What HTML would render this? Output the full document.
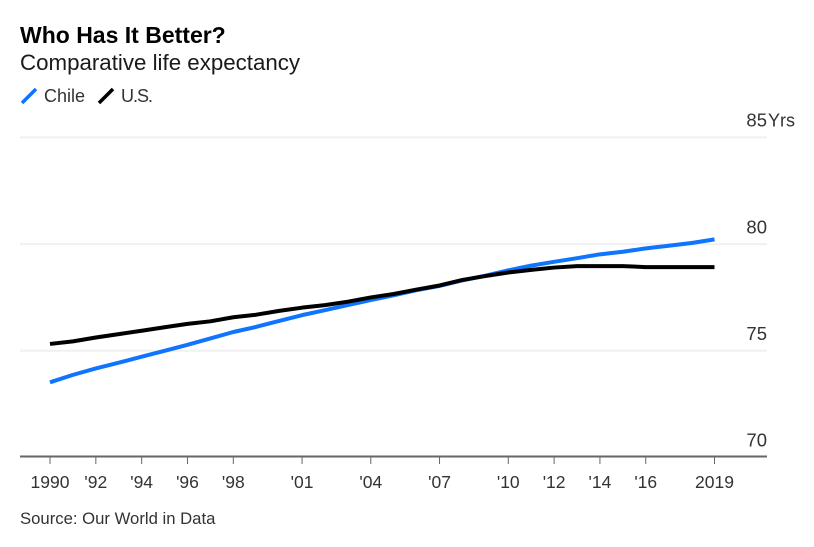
<!DOCTYPE html>
<html>
<head>
<meta charset="utf-8">
<title>Who Has It Better?</title>
<style>
html,body{margin:0;padding:0;background:#fff;width:814px;height:547px;overflow:hidden}
svg{display:block}
text{font-family:"Liberation Sans",sans-serif}
</style>
</head>
<body>
<svg id="chart" width="814" height="547" viewBox="0 0 814 547" xmlns="http://www.w3.org/2000/svg">
  <rect width="814" height="547" fill="#fff"/>
  <text x="20" y="43" font-size="23" font-weight="700" fill="#000">Who Has It Better?</text>
  <text x="20" y="70" font-size="22.3" fill="#1a1a1a">Comparative life expectancy</text>
  <line x1="22" y1="103" x2="36" y2="89" stroke="#0f75ff" stroke-width="3.5"/>
  <text x="44" y="102" font-size="18" fill="#333">Chile</text>
  <line x1="99" y1="103" x2="113" y2="89" stroke="#000" stroke-width="3.5"/>
  <text x="121" y="102" font-size="18" letter-spacing="-1" fill="#333">U.S.</text>
  <g id="grid"></g>
  <g id="xaxis"></g>
  <g id="series"></g>
  <text x="20" y="524" font-size="16.7" fill="#333">Source: Our World in Data</text>
</svg>
<script>
var years = [1990,1991,1992,1993,1994,1995,1996,1997,1998,1999,2000,2001,2002,2003,2004,2005,2006,2007,2008,2009,2010,2011,2012,2013,2014,2015,2016,2017,2018,2019];
var chile = [73.5,73.85,74.15,74.42,74.7,74.98,75.26,75.56,75.86,76.1,76.38,76.65,76.88,77.12,77.36,77.58,77.82,78.02,78.28,78.5,78.75,78.97,79.15,79.32,79.5,79.62,79.78,79.9,80.03,80.2];
var us = [75.3,75.42,75.6,75.76,75.92,76.08,76.24,76.36,76.55,76.67,76.85,77.0,77.12,77.28,77.48,77.64,77.85,78.04,78.3,78.48,78.65,78.77,78.88,78.95,78.95,78.95,78.9,78.9,78.9,78.9];
var yTicks = [70,75,80,85];
var xTickYears = [1990,1992,1994,1996,1998,2001,2004,2007,2010,2012,2014,2016,2019];
var xTickLabels = ["1990","'92","'94","'96","'98","'01","'04","'07","'10","'12","'14","'16","2019"];

var NS = 'http://www.w3.org/2000/svg';
function X(year){ return 50 + (year - 1990) * (714.5 - 50) / 29; }
function Y(v){ return 457 - (v - 70) * (457 - 137) / 15; }
function make(tag, attrs, parent){
  var el = document.createElementNS(NS, tag);
  for (var k in attrs) el.setAttribute(k, attrs[k]);
  parent.appendChild(el);
  return el;
}
var grid = document.getElementById('grid');
var xaxis = document.getElementById('xaxis');
var series = document.getElementById('series');

yTicks.forEach(function(t){
  if (t !== 70) {
    var g = make('line', {x1:20, x2:767, y1:Y(t)+0.4, y2:Y(t)+0.4, stroke:'#f0f0f0', 'stroke-width':2}, grid);
    
    
  }
  var lab = make('text', {x:767, y:Y(t)-10.3, 'font-size':18.5, fill:'#333', 'text-anchor':'end'}, grid);
  lab.textContent = t;
  
  
});
var unit = make('text', {x:768, y:Y(85)-10.3, 'font-size':18, fill:'#333'}, grid);
unit.textContent = 'Yrs';



var axis = make('line', {x1:20, x2:767, y1:456.5, y2:456.5, stroke:'#666', 'stroke-width':2}, xaxis);



xTickYears.forEach(function(yr, i){
  var tk = make('line', {x1:X(yr), x2:X(yr), y1:457, y2:464, stroke:'#666', 'stroke-width':1}, xaxis);
  
  
  var lab = make('text', {x:X(yr), y:488, 'font-size':17.5, fill:'#333', 'text-anchor':'middle'}, xaxis);
  lab.textContent = xTickLabels[i];
  
  
});

function linePath(values){
  return values.map(function(v, i){
    return (i ? 'L' : 'M') + X(years[i]).toFixed(2) + ' ' + Y(v).toFixed(2);
  }).join(' ');
}
var chilePath = make('path', {d:linePath(chile), fill:'none', stroke:'#0f75ff', 'stroke-width':4, 'stroke-linejoin':'round'}, series);


var usPath = make('path', {d:linePath(us), fill:'none', stroke:'#000', 'stroke-width':4, 'stroke-linejoin':'round'}, series);


</script>
</body>
</html>
